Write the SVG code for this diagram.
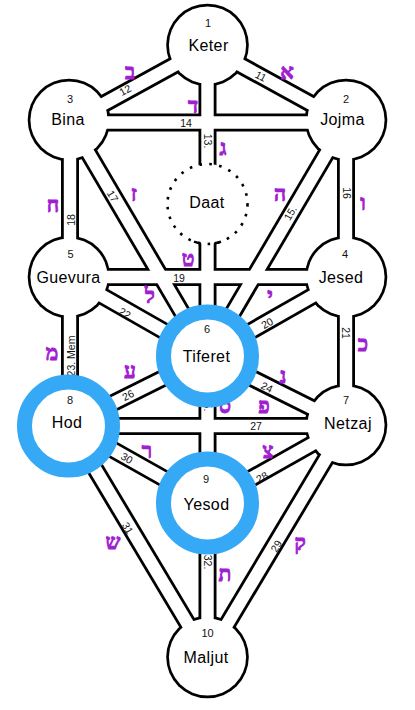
<svg xmlns="http://www.w3.org/2000/svg" width="415" height="710" viewBox="0 0 415 710">
<defs>
<style>
.bd{fill:#000}
.wd{fill:#fff}
.co line{stroke:#000;stroke-width:18;stroke-linecap:butt}
.ci line{stroke:#fff;stroke-width:12.4;stroke-linecap:butt}
.ring{fill:none;stroke:#36a9f5;stroke-width:15;filter:url(#soft)}
.nm{font-family:"Liberation Sans",Arial,sans-serif;font-size:16px;fill:#000;text-anchor:middle;letter-spacing:0.4px}
.num{font-family:"Liberation Sans",Arial,sans-serif;font-size:11px;fill:#111;text-anchor:middle}
.pl{font-family:"Liberation Sans",Arial,sans-serif;font-size:10.5px;fill:#111;text-anchor:middle;dominant-baseline:central}
.heb{font-family:"Liberation Serif","DejaVu Sans",serif;font-size:21px;font-weight:bold;fill:#a020d0;stroke:#a020d0;stroke-width:0.9;stroke-linejoin:round;text-anchor:middle;dominant-baseline:central}
</style>
<filter id="soft" x="-20%" y="-20%" width="140%" height="140%"><feGaussianBlur stdDeviation="0.7"/></filter>
</defs>
<rect width="415" height="710" fill="#fff"/>

<g id="node-outlines">
<circle class="bd" cx="207.5" cy="45" r="41.3"/>
<circle class="bd" cx="69" cy="120" r="41.3"/>
<circle class="bd" cx="346" cy="120" r="41.3"/>
<circle class="bd" cx="69" cy="277" r="41.3"/>
<circle class="bd" cx="346" cy="277" r="41.3"/>
<circle class="bd" cx="207.5" cy="356" r="41.3"/>
<circle class="bd" cx="69" cy="425" r="41.3"/>
<circle class="bd" cx="346" cy="425" r="41.3"/>
<circle class="bd" cx="207.5" cy="503" r="41.3"/>
<circle class="bd" cx="207.5" cy="657" r="41.3"/>
</g>

<g id="connectors">
<g class="co">
<line x1="207.5" y1="47" x2="346" y2="123"/>
<line x1="207.5" y1="47" x2="69" y2="123"/>
<line x1="207.5" y1="45" x2="207.5" y2="356"/>
<line x1="69" y1="122.5" x2="346" y2="122.5"/>
<line x1="346" y1="120" x2="207.5" y2="356"/>
<line x1="346" y1="120" x2="346" y2="277"/>
<line x1="69" y1="120" x2="207.5" y2="356"/>
<line x1="70" y1="120" x2="70" y2="277"/>
<line x1="69" y1="277" x2="346" y2="277"/>
<line x1="346" y1="277" x2="207.5" y2="356"/>
<line x1="346" y1="277" x2="346" y2="425"/>
<line x1="69" y1="277" x2="207.5" y2="356"/>
<line x1="70" y1="277" x2="70" y2="425"/>
<line x1="207.5" y1="356" x2="346" y2="425"/>
<line x1="207.5" y1="356" x2="207.5" y2="503"/>
<line x1="207.5" y1="356" x2="69" y2="425"/>
<line x1="69" y1="426" x2="346" y2="426"/>
<line x1="346" y1="425" x2="207.5" y2="503"/>
<line x1="346" y1="425" x2="207.5" y2="657"/>
<line x1="69" y1="425" x2="207.5" y2="503"/>
<line x1="69" y1="425" x2="207.5" y2="657"/>
<line x1="207.5" y1="503" x2="207.5" y2="657"/>
</g>
<g class="ci">
<line x1="207.5" y1="47" x2="346" y2="123"/>
<line x1="207.5" y1="47" x2="69" y2="123"/>
<line x1="207.5" y1="45" x2="207.5" y2="356"/>
<line x1="69" y1="122.5" x2="346" y2="122.5"/>
<line x1="346" y1="120" x2="207.5" y2="356"/>
<line x1="346" y1="120" x2="346" y2="277"/>
<line x1="69" y1="120" x2="207.5" y2="356"/>
<line x1="70" y1="120" x2="70" y2="277"/>
<line x1="69" y1="277" x2="346" y2="277"/>
<line x1="346" y1="277" x2="207.5" y2="356"/>
<line x1="346" y1="277" x2="346" y2="425"/>
<line x1="69" y1="277" x2="207.5" y2="356"/>
<line x1="70" y1="277" x2="70" y2="425"/>
<line x1="207.5" y1="356" x2="346" y2="425"/>
<line x1="207.5" y1="356" x2="207.5" y2="503"/>
<line x1="207.5" y1="356" x2="69" y2="425"/>
<line x1="69" y1="426" x2="346" y2="426"/>
<line x1="346" y1="425" x2="207.5" y2="503"/>
<line x1="346" y1="425" x2="207.5" y2="657"/>
<line x1="69" y1="425" x2="207.5" y2="503"/>
<line x1="69" y1="425" x2="207.5" y2="657"/>
<line x1="207.5" y1="503" x2="207.5" y2="657"/>
</g>
<g id="path-numbers">
<text class="pl" transform="translate(261,76) rotate(28.4)">11</text>
<text class="pl" transform="translate(125,90) rotate(-28.4)">12</text>
<text class="pl" transform="translate(208,141) rotate(90)">13.</text>
<text class="pl" x="186" y="123">14</text>
<text class="pl" transform="translate(290,213) rotate(-59.6)">15.</text>
<text class="pl" transform="translate(347,193) rotate(90)">16</text>
<text class="pl" transform="translate(113,196) rotate(59.6)">17</text>
<text class="pl" transform="translate(71,220) rotate(-90)">18</text>
<text class="pl" x="179" y="278">19</text>
<text class="pl" transform="translate(267,323) rotate(-29.7)">20</text>
<text class="pl" transform="translate(346,333) rotate(90)">21</text>
<text class="pl" transform="translate(125,313) rotate(29.7)">22</text>
<text class="pl" transform="translate(71,356) rotate(-90)">23. Mem</text>
<text class="pl" transform="translate(267,387) rotate(26.5)">24</text>
<text class="pl" transform="translate(208,404) rotate(90)">25.</text>
<text class="pl" transform="translate(128,395) rotate(-26.5)">26</text>
<text class="pl" x="256" y="426">27</text>
<text class="pl" transform="translate(262,477) rotate(-29.4)">28</text>
<text class="pl" transform="translate(276,546) rotate(-59.2)">29</text>
<text class="pl" transform="translate(127,458) rotate(29.4)">30</text>
<text class="pl" transform="translate(128,528) rotate(59.2)">31</text>
<text class="pl" transform="translate(208,562) rotate(90)">32.</text>
</g>
<g id="path-letters">
<text class="heb" x="287" y="72">א</text>
<text class="heb" x="130" y="72">ב</text>
<text class="heb" x="223" y="148">ג</text>
<text class="heb" x="193" y="106">ד</text>
<text class="heb" x="280" y="194">ה</text>
<text class="heb" x="363" y="203">ו</text>
<text class="heb" x="134" y="194">ז</text>
<text class="heb" x="53" y="205">ח</text>
<text class="heb" x="188" y="259">ט</text>
<text class="heb" x="270" y="296">י</text>
<text class="heb" x="363" y="344">כ</text>
<text class="heb" x="150" y="296">ל</text>
<text class="heb" x="52" y="353">מ</text>
<text class="heb" x="283" y="376">נ</text>
<text class="heb" x="225" y="406">ס</text>
<text class="heb" x="130" y="371">ע</text>
<text class="heb" x="264" y="406">פ</text>
<text class="heb" x="268" y="451">צ</text>
<text class="heb" x="300" y="543">ק</text>
<text class="heb" x="147" y="451">ר</text>
<text class="heb" x="113" y="542">ש</text>
<text class="heb" x="225" y="574">ת</text>
</g>
</g>

<g id="keter">
<circle class="wd" cx="207.5" cy="45" r="38.6"/>
<text class="num" x="208" y="27">1</text>
<text class="nm" x="208.5" y="51">Keter</text>
</g>
<g id="jojma">
<circle class="wd" cx="346" cy="120" r="38.6"/>
<text class="num" x="346" y="103">2</text>
<text class="nm" x="342.5" y="125">Jojma</text>
</g>
<g id="bina">
<circle class="wd" cx="69" cy="120" r="38.6"/>
<text class="num" x="70" y="103">3</text>
<text class="nm" x="68" y="125">Bina</text>
</g>
<g id="daat">
<circle class="wd" cx="207.5" cy="204" r="40"/>
<circle cx="207.5" cy="204" r="40" fill="none" stroke="#000" stroke-width="2.6" stroke-dasharray="2.6 7.4"/>
<path d="M194,241.6 A40,40 0 0 0 200.5,243.4 M214.5,243.4 A40,40 0 0 0 221,241.6" fill="none" stroke="#000" stroke-width="2.6"/>
<text class="nm" x="207" y="208">Daat</text>
</g>
<g id="jesed">
<circle class="wd" cx="346" cy="277" r="38.6"/>
<text class="num" x="345" y="258">4</text>
<text class="nm" x="341" y="283">Jesed</text>
</g>
<g id="guevura">
<circle class="wd" cx="69" cy="277" r="38.6"/>
<text class="num" x="70.5" y="258">5</text>
<text class="nm" x="68.5" y="283">Guevura</text>
</g>
<g id="tiferet">
<circle class="wd" cx="207.5" cy="356" r="38.6"/>
<circle class="ring" cx="207.5" cy="356" r="44"/>
<text class="num" x="207" y="333">6</text>
<text class="nm" x="206.5" y="362">Tiferet</text>
</g>
<g id="netzaj">
<circle class="wd" cx="346" cy="425" r="38.6"/>
<text class="num" x="346" y="404">7</text>
<text class="nm" x="348" y="429">Netzaj</text>
</g>
<g id="hod">
<circle class="wd" cx="68.5" cy="426" r="38.6"/>
<circle class="ring" cx="68.5" cy="426" r="44"/>
<text class="num" x="70" y="404">8</text>
<text class="nm" x="67" y="428">Hod</text>
</g>
<g id="yesod">
<circle class="wd" cx="207.5" cy="503" r="38.6"/>
<circle class="ring" cx="207.5" cy="503" r="44"/>
<text class="num" x="206" y="483">9</text>
<text class="nm" x="206.5" y="510">Yesod</text>
</g>
<g id="maljut">
<circle class="wd" cx="207.5" cy="657" r="38.6"/>
<text class="num" x="207.5" y="637">10</text>
<text class="nm" x="206" y="663">Maljut</text>
</g>
</svg>
